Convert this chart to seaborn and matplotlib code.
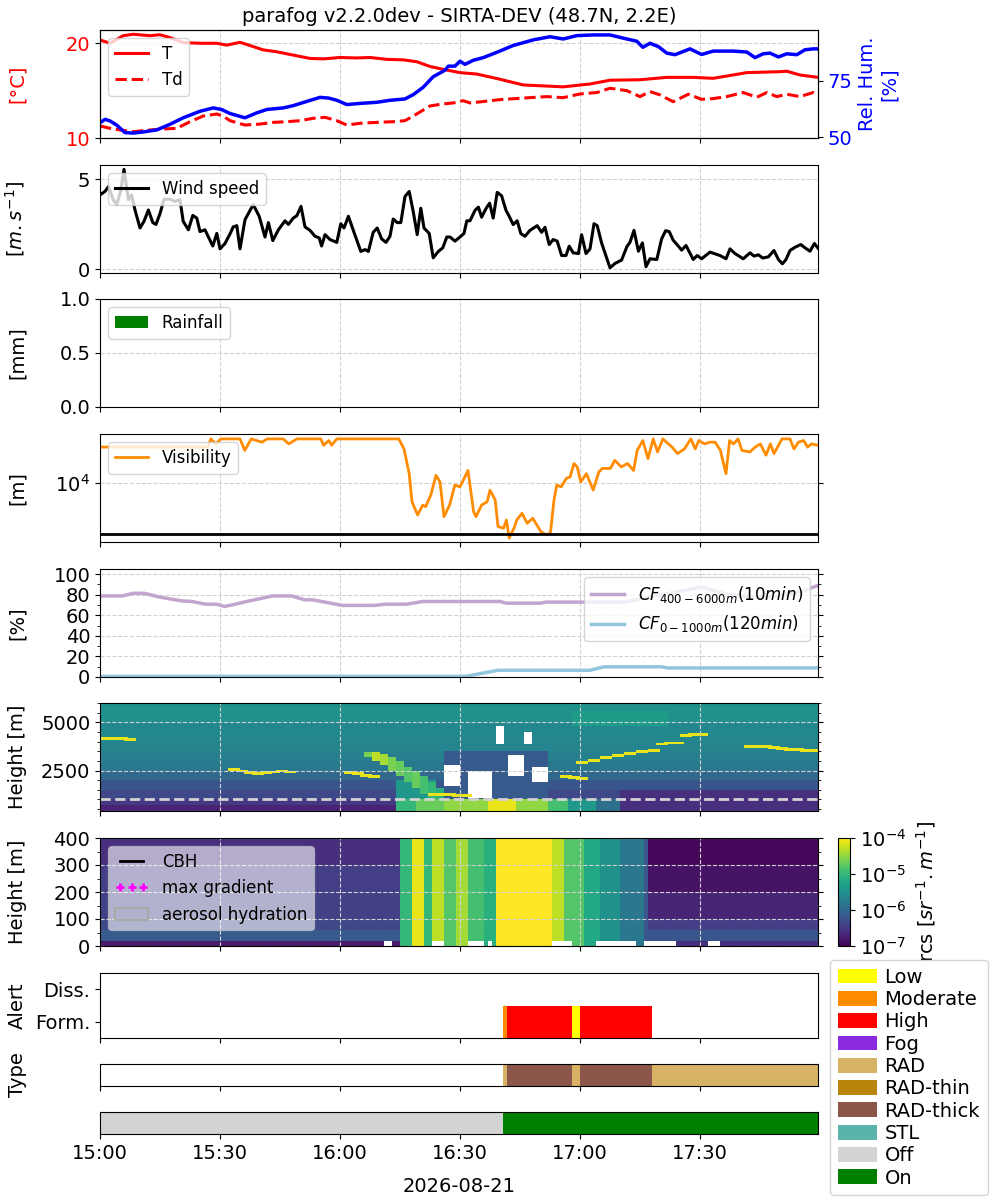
import numpy as np
import pandas as pd
import matplotlib
matplotlib.use('Agg')
import matplotlib.pyplot as plt
import matplotlib.dates as mdates
from matplotlib.colors import LogNorm
from matplotlib.patches import Patch
from matplotlib.ticker import MultipleLocator, NullLocator
import seaborn as sns

plt.rcParams['font.size'] = 14
plt.rcParams['font.family'] = ['DejaVu Sans']

# --- data (time in minutes after 15:00) ---
DAY = '2026-08-21'
TITLE = 'parafog v2.2.0dev - SIRTA-DEV (48.7N, 2.2E)'

T_TIME = [0, 2.5, 5.8, 8.3, 12.5, 15, 17.5, 20.8, 25, 29.2,
          31.7, 35, 38.3, 40.8, 44.2, 48.3, 52.5, 55.8, 60, 64.2,
          67.5, 71.7, 75.8, 79.2, 82.5, 85.8, 90, 94.2, 99.5, 105.8,
          115.8, 122.5, 127.5, 135, 141.7, 148.3, 153.3, 161.7, 170, 171.7,
          175, 179.5]
T_VAL = [20.35, 20.0, 20.8, 20.95, 20.8, 20.9, 20.6, 20.07, 20.0, 20.0,
         19.8, 20.1, 19.65, 19.3, 19.1, 18.75, 18.4, 18.35, 18.5, 18.45,
         18.5, 18.3, 18.25, 18.05, 17.55, 17.25, 16.9, 16.75, 16.25, 15.6,
         15.4, 15.7, 16.1, 16.15, 16.4, 16.4, 16.3, 16.9, 17.0, 17.05,
         16.65, 16.4]

TD_TIME = [0, 2.5, 5, 8.3, 12.5, 15.8, 19.2, 22.5, 25.8, 29.2,
           30.8, 32.5, 36.25, 40, 43.3, 46.7, 50, 53.3, 56.25, 59.2,
           61.7, 65, 69.2, 73.3, 76.25, 78.75, 82.5, 85.8, 88.3, 90.8,
           92.5, 95.8, 100, 107.5, 111.7, 115.8, 120, 124.2, 127.5, 131.7,
           135, 137.5, 140, 143.3, 147.1, 150.4, 153.3, 156.7, 160.8, 164.2,
           166.7, 169.2, 171.7, 175, 178.3, 179.5]
TD_VAL = [11.27, 11.02, 10.85, 10.67, 10.85, 10.95, 11.02, 11.72, 12.32, 12.53,
          12.3, 11.83, 11.37, 11.47, 11.65, 11.72, 11.83, 12.08, 12.18, 11.83,
          11.37, 11.55, 11.65, 11.72, 11.83, 12.43, 13.38, 13.6, 13.7, 13.94,
          13.7, 13.85, 14.05, 14.26, 14.37, 14.26, 14.65, 14.8, 15.25, 15.0,
          14.37, 14.9, 14.55, 13.83, 14.62, 14.08, 14.16, 14.37, 14.8, 14.3,
          14.8, 14.37, 14.62, 14.37, 14.8, 14.55]

RH_TIME = [0, 1.25, 2.5, 4.2, 6.25, 8.3, 10.8, 14.2, 17.5, 20.8,
           25, 28.3, 30.4, 32.5, 36.25, 39.2, 41.7, 45.8, 48.3, 51.7,
           55, 57.1, 59.2, 61.7, 65, 69.2, 72.5, 76.25, 78.3, 80.8,
           83.3, 86.25, 87.1, 88.75, 90, 91.25, 93.3, 95.8, 99.4, 103.3,
           108.3, 112.5, 115.8, 119.2, 123.3, 127.5, 131.7, 134.2, 135.7, 137.5,
           139.6, 141.7, 143.75, 147.5, 150.4, 153.3, 158.3, 161.7, 163.75, 165.8,
           167.5, 169.6, 171.7, 174.2, 176.25, 178.3, 179.5]
RH_VAL = [56.4, 57.9, 57.2, 55.3, 52.0, 51.8, 52.3, 53.2, 55.7, 58.6,
          61.5, 63.0, 62.3, 60.5, 58.6, 60.8, 62.3, 63.0, 64.0, 65.9,
          67.7, 67.4, 66.4, 64.5, 65.0, 65.5, 66.4, 67.0, 68.9, 72.2,
          76.9, 79.8, 81.6, 81.6, 83.8, 82.4, 84.2, 85.4, 87.9, 90.8,
          93.3, 94.7, 93.7, 95.2, 95.5, 95.5, 93.7, 92.7, 90.0, 91.8,
          90.3, 87.4, 86.7, 89.3, 86.8, 88.3, 88.3, 87.9, 85.4, 87.1,
          87.4, 85.7, 87.1, 86.7, 88.9, 89.3, 89.3]

WIND_TIME = [0, 1.25, 2.1, 3.3, 4.2, 5.2, 6, 7.1, 7.9, 8.75,
             10, 11, 12.1, 13.2, 14, 15, 16, 17.5, 18.75, 20,
             20.8, 22.1, 23.2, 24.2, 25, 26.25, 27.1, 28.2, 29.2, 30,
             31.25, 32.5, 33.3, 34.2, 35, 36.25, 38.3, 39.8, 41.25, 42.1,
             43.2, 44.6, 46.25, 47.1, 48.3, 49.2, 50.25, 51.25, 52.5, 53.75,
             54.8, 55.4, 56.25, 57.5, 59.2, 60.2, 61, 62.1, 63.5, 65.2,
             66.25, 67.1, 68.3, 69.3, 70.4, 71.5, 72.5, 73.3, 74.3, 75.2,
             76.25, 77.3, 78.3, 79.3, 80.2, 81, 82.3, 83.3, 84.6, 85.7,
             86.7, 87.5, 88.75, 90, 91, 91.7, 92.5, 93.75, 94.6, 95.4,
             96.5, 97.4, 98.3, 99.3, 100.4, 101.5, 102.3, 103.3, 104.3, 105.2,
             106.25, 107.5, 109.3, 110.4, 111.25, 112.3, 113.3, 114.3, 115.4, 116.5,
             117.3, 118.3, 119.6, 120.4, 121.5, 122.5, 123.5, 124.3, 125.4, 126.5,
             127.5, 128.75, 130.4, 131.7, 132.5, 133.5, 134.6, 135.6, 136.5, 137.5,
             139.2, 140.4, 141.4, 142.3, 143.3, 144.6, 145.4, 146.5, 148.3, 149.3,
             150.4, 152.5, 155, 156.5, 157.5, 158.75, 160.8, 162.5, 163.5, 164.6,
             165.7, 167.1, 168.5, 169.6, 170.6, 171.5, 172.5, 173.75, 175.2, 176.25,
             177.5, 178.6, 179.5]
WIND_VAL = [4.14, 4.33, 4.6, 3.87, 3.6, 4.4, 5.56, 3.87, 4.14, 3.3,
            2.3, 2.67, 3.3, 2.6, 2.5, 3.1, 3.9, 3.9, 3.78, 3.87,
            2.67, 2.2, 3.0, 2.85, 2.1, 2.2, 1.8, 1.3, 2.0, 1.14,
            1.44, 1.97, 2.36, 2.43, 1.14, 2.76, 3.6, 2.95, 1.8, 2.6,
            1.6, 2.2, 2.7, 2.5, 2.85, 2.98, 3.5, 2.36, 2.17, 1.84,
            1.75, 1.3, 1.93, 1.66, 1.5, 2.54, 2.3, 2.95, 2.06, 1.0,
            1.1, 1.0, 2.06, 2.3, 1.7, 1.5, 1.84, 2.8, 2.6, 2.6,
            4.05, 4.33, 3.22, 1.93, 3.4, 2.3, 2.0, 0.64, 1.0, 1.2,
            1.8, 1.8, 1.57, 1.8, 2.0, 2.7, 2.7, 3.28, 3.46, 2.9,
            3.38, 3.68, 2.85, 4.28, 4.09, 3.28, 2.95, 2.49, 2.7, 1.99,
            1.84, 2.17, 2.43, 2.06, 2.34, 1.38, 1.66, 1.57, 0.77, 0.77,
            1.29, 0.92, 0.88, 1.93, 0.88, 1.14, 2.54, 2.43, 1.47, 0.74,
            0.09, 0.33, 0.52, 1.25, 1.51, 2.17, 1.01, 1.47, 0.15, 0.59,
            0.55, 1.69, 2.15, 2.1, 1.62, 1.29, 1.07, 1.33, 0.55, 0.77,
            0.59, 0.96, 0.77, 0.59, 1.14, 0.88, 0.59, 0.92, 0.74, 0.81,
            0.63, 0.7, 1.05, 0.55, 0.31, 0.55, 1.05, 1.23, 1.38, 1.2,
            1.01, 1.44, 1.18]

RAIN_TIME = [0, 30, 60, 90, 120, 150]
RAIN_MM = [0.0, 0.0, 0.0, 0.0, 0.0, 0.0]

VIS_TIME = [0, 27, 27.7, 29, 30.2, 35, 36.2, 37.8, 40.5, 41.8,
            45.8, 47.2, 49.2, 55.2, 55.9, 57.2, 57.9, 59.2, 74.7, 76,
            77.3, 78, 79.4, 80.7, 81.4, 82.7, 84, 85, 86, 87.4,
            88.7, 90, 92, 93.4, 94, 95.4, 96.8, 97.5, 98.8, 99.5,
            100.9, 101.6, 102.3, 103.5, 104.2, 105.5, 106.8, 108.2, 110.2, 111.5,
            112.6, 113.5, 114.2, 115.3, 116.6, 117.5, 118.5, 119.3, 120.2, 121.6,
            123.3, 124.7, 125.6, 127.6, 128.7, 130.3, 131.9, 133.4, 134.3, 135.7,
            137, 138.3, 139.4, 140.7, 143, 144.4, 146.1, 147.7, 148.8, 149.7,
            151.1, 152.4, 153.8, 155.1, 156.5, 157.4, 158.4, 159.5, 160.5, 162.5,
            163.8, 165.1, 166.5, 167.6, 168.5, 170.5, 172.5, 173.5, 174.6, 175.9,
            176.9, 177.9, 179.5]
VIS_VAL = [17600, 17600, 20000, 18500, 20000, 20000, 16700, 20000, 19000, 20000,
           20000, 18500, 20000, 20000, 18100, 19500, 18100, 20000, 20000, 17100,
           11600, 7480, 6080, 7100, 6920, 8300, 11300, 10200, 5920, 7100,
           9700, 9440, 12200, 6400, 5920, 7100, 7480, 8970, 7680, 5070,
           4940, 5620, 4230, 4940, 5620, 6240, 5340, 5770, 4690, 4460,
           4570, 7680, 9700, 9440, 10800, 11000, 13600, 12900, 10200, 11600,
           8970, 11900, 12600, 12600, 14300, 12900, 13600, 12200, 16700, 19500,
           14700, 20000, 16300, 20000, 17600, 15900, 17100, 20000, 17100, 19500,
           18500, 19000, 19000, 16700, 11600, 19500, 18500, 20000, 16700, 16300,
           17600, 18500, 15500, 18500, 15900, 20000, 20000, 17100, 19000, 19500,
           17600, 18500, 18100]
VIS_THRESHOLD = 4500

CF_HIGH_TIME = [0, 5.6, 8.3, 11, 15, 20.4, 23, 26.4, 29.1, 31.1,
                33.8, 37.8, 43.2, 47.9, 51.2, 53.2, 60.6, 68.6, 71.3, 76.7,
                80.7, 100.1, 101.5, 110.2, 111.5, 131, 150.4, 156, 162, 168,
                172, 176, 179.5]
CF_HIGH_VAL = [78.8, 78.8, 81.4, 81.4, 77.6, 74.0, 73.4, 70.8, 70.8, 68.6,
               70.8, 74.4, 78.8, 78.8, 75.0, 75.0, 69.6, 69.6, 70.8, 70.8,
               73.4, 73.4, 71.8, 71.8, 72.8, 72.8, 87.5, 81, 78, 78,
               80, 84, 89]
CF_LOW_TIME = [0, 91.4, 99.5, 122.5, 126, 140.3, 142, 179.5]
CF_LOW_VAL = [0.6, 0.6, 6.5, 6.5, 9.9, 9.9, 8.8, 8.8]

# ceilometer 400-6000 m: background per height band, boxes, missing boxes, thin layers (log10 rcs)
HIGH_BAND_EDGES = [400, 700, 1000, 1500, 2000, 2500, 3000, 3500, 4000, 5000, 6000]
HIGH_BAND_LOG = [-6.7, -6.5, -6.35, -6.2, -6.0, -5.8, -5.7, -5.65, -5.6, -5.5]
HIGH_BOX_T0 = [74, 79, 86, 97, 104, 112, 117, 124, 130, 74,
               66, 68, 70, 72, 74, 76, 78, 80, 82, 84,
               86, 118]
HIGH_BOX_T1 = [79, 86, 97, 104, 112, 117, 124, 130, 180, 84,
               68, 70, 72, 74, 76, 78, 80, 82, 84, 86,
               112, 142]
HIGH_BOX_H0 = [400, 400, 400, 400, 400, 400, 400, 400, 400, 1000,
               3200, 3000, 2800, 2500, 2200, 1900, 1600, 1300, 1000, 1000,
               1000, 4800]
HIGH_BOX_H1 = [1000, 1000, 1000, 1000, 1000, 1000, 1000, 1000, 1500, 2000,
               3450, 3450, 3350, 3200, 3000, 2700, 2450, 2200, 1900, 1600,
               3500, 5600]
HIGH_BOX_LOG = [-5.0, -4.7, -4.5, -4.1, -4.5, -4.9, -5.4, -5.9, -6.6, -5.4,
                -4.6, -4.3, -4.4, -4.6, -4.7, -4.8, -4.7, -4.9, -5.0, -5.1,
                -6.15, -5.35]
NAN_T0 = [86.5, 92.5, 99.5, 102.5, 108, 106.5]
NAN_T1 = [90, 98.3, 101, 106, 112, 108.5]
NAN_H0 = [1700, 1100, 3900, 2200, 1900, 3900]
NAN_H1 = [2800, 2500, 4800, 3300, 2700, 4500]
LAYER_T = [0, 2, 4, 6, 32, 34, 36, 38, 40, 42, 44, 46, 61, 63, 65, 67,
           82, 84, 86, 88, 90, 115, 117, 119, 119, 122, 125, 128, 131, 134, 137,
           139, 141, 143, 145, 147, 149, 161, 163, 165, 167, 169, 171, 173, 175, 177, 179]
LAYER_H = [4200, 4200, 4200, 4150, 2600, 2500, 2400, 2350, 2400, 2450, 2500, 2450, 2400, 2350, 2250, 2200,
           1300, 1300, 1300, 1250, 1250, 2200, 2150, 2100, 2930, 3050, 3190, 3300, 3400, 3480, 3530,
           3900, 3950, 3950, 4350, 4400, 4400, 3750, 3750, 3750, 3700, 3650, 3600, 3600, 3550, 3550, 3550]
LAYER_LOG = -4.1

# ceilometer 0-400 m: clear-air profiles and fog columns
LOW_BAND_EDGES = [0, 20, 60, 100, 200, 300, 400]
LOW_CLEAR_BEFORE = [-6.8, -6.15, -6.35, -6.42, -6.45, -6.6]
LOW_CLEAR_AFTER = [-6.6, -6.2, -6.45, -6.7, -6.85, -6.95]
LOW_SEG_T0 = [75.5, 78, 81.5, 83.5, 86.5, 89, 92, 96, 99.5, 113, 116, 121, 125, 130, 136]
LOW_SEG_T1 = [78, 81.5, 83.5, 86.5, 89, 92, 96, 99.5, 113, 116, 121, 125, 130, 136, 137.5]
LOW_SEG_LOG = [-5.0, -4.1, -5.0, -4.3, -4.8, -4.4, -4.9, -5.1, -4.0, -4.3, -4.8, -5.2, -5.5, -5.8, -6.2]
LOW_GAP_T0 = [71.5, 83.5, 92.5, 97, 113.5, 124, 136, 152]
LOW_GAP_T1 = [73, 86.5, 96, 98.5, 118.5, 134.5, 144, 155]
CBH_TIME = []
CBH_H = []
GRAD_TIME = []
GRAD_H = []

ALERT_T0 = [100.7, 101.7, 118, 120]
ALERT_T1 = [101.7, 118, 120, 138]
ALERT_LEVEL = ['Moderate', 'High', 'Low', 'High']
TYPE_T0 = [100.7, 101.7, 118, 120, 138]
TYPE_T1 = [101.7, 118, 120, 138, 179.5]
TYPE_CLASS = ['RAD', 'RAD-thick', 'RAD', 'RAD-thick', 'RAD']
STATE_T0 = [0, 100.7]
STATE_T1 = [100.7, 179.5]
STATE = ['Off', 'On']

CAT_NAMES = ['Low', 'Moderate', 'High', 'Fog', 'RAD', 'RAD-thin', 'RAD-thick', 'STL', 'Off', 'On']
CAT_COLORS = ['#ffff00', '#ff8c00', '#ff0000', '#8a2be2', '#d8b365', '#b8860b', '#8c564b', '#5ab4ac', '#d3d3d3', '#008000']
COLOR_OF = dict(zip(CAT_NAMES, CAT_COLORS))

T0 = mdates.date2num(pd.Timestamp(DAY + ' 15:00'))


def tnum(minutes):
    return T0 + np.asarray(minutes, dtype=float) / 1440.0


fig = plt.figure(figsize=(10, 12), dpi=100)


def px_axes(top, bottom, left=100, right=818):
    return fig.add_axes([left / 1000, 1 - bottom / 1200, (right - left) / 1000, (bottom - top) / 1200])


def time_axis(ax, grid=True, labels=False):
    ax.set_xlim(tnum(0), tnum(179.5))
    ax.xaxis.set_major_locator(mdates.MinuteLocator(byminute=[0, 30]))
    ax.xaxis.set_major_formatter(mdates.DateFormatter('%H:%M'))
    if grid:
        ax.grid(True, which='major', linestyle='--', color='0.82', linewidth=0.8)
    ax.tick_params(axis='x', labelbottom=labels)
    ax.set_xlabel('')


def ylab(ax, text, **kw):
    ax.set_ylabel(text, **kw)
    ax.yaxis.set_label_coords(-0.102, 0.5)


tops = [30, 165, 299, 434, 569, 703, 838]
axes = [px_axes(t, t + 108) for t in tops]
ax_t, ax_w, ax_r, ax_v, ax_cf, ax_hi, ax_lo = axes

# 1. temperature / humidity
sns.lineplot(x=tnum(T_TIME), y=T_VAL, ax=ax_t, color='red', linewidth=2.2, label='T', estimator=None)
sns.lineplot(x=tnum(TD_TIME), y=TD_VAL, ax=ax_t, color='red', linewidth=2.2, linestyle='--', label='Td', estimator=None)
ax_rh = ax_t.twinx()
sns.lineplot(x=tnum(RH_TIME), y=RH_VAL, ax=ax_rh, color='blue', linewidth=2.5, estimator=None)
ax_t.set_ylim(10, 21.4)
ax_t.set_yticks([10, 20])
ax_rh.set_ylim(49.6, 97.7)
ax_rh.set_yticks([50, 75])
ax_t.tick_params(axis='y', labelcolor='red')
ax_rh.tick_params(axis='y', labelcolor='blue')
ax_rh.set_ylabel('Rel. Hum.\n[%]', color='blue')
ylab(ax_t, '[°C]', color='red')
ax_t.legend(loc='upper left', fontsize=12)
ax_t.set_title(TITLE, fontsize=14)
time_axis(ax_t)
ax_rh.set_xlim(tnum(0), tnum(179.5))

# 2. wind
sns.lineplot(x=tnum(WIND_TIME), y=WIND_VAL, ax=ax_w, color='black', linewidth=2.2, label='Wind speed', estimator=None)
ax_w.set_ylim(-0.2, 5.8)
ax_w.set_yticks([0, 5])
ax_w.legend(loc='upper left', fontsize=12)
ylab(ax_w, r'[$m.s^{-1}$]')
time_axis(ax_w)

# 3. rain
ax_r.bar(tnum(RAIN_TIME), RAIN_MM, width=1 / 1440, color='green', label='Rainfall')
ax_r.set_ylim(0, 1)
ax_r.set_yticks([0, 0.5, 1.0])
ax_r.legend(loc='upper left', fontsize=12)
ylab(ax_r, '[mm]')
time_axis(ax_r)

# 4. visibility
sns.lineplot(x=tnum(VIS_TIME), y=VIS_VAL, ax=ax_v, color='darkorange', linewidth=2, label='Visibility', estimator=None)
ax_v.axhline(VIS_THRESHOLD, color='black', linewidth=2)
ax_v.set_yscale('log')
ax_v.set_ylim(3980, 21600)
ax_v.set_yticks([1e4])
ax_v.yaxis.set_minor_locator(NullLocator())
ax_v.tick_params(axis='y', right=True)
ax_v.legend(loc='upper left', fontsize=12)
ylab(ax_v, '[m]')
time_axis(ax_v)

# 5. cloud fraction
sns.lineplot(x=tnum(CF_HIGH_TIME), y=CF_HIGH_VAL, ax=ax_cf, color='#c2a5cf', linewidth=2.5,
             label=r'$CF_{400-6000m}(10min)$', estimator=None)
sns.lineplot(x=tnum(CF_LOW_TIME), y=CF_LOW_VAL, ax=ax_cf, color='#92c5de', linewidth=2.5,
             label=r'$CF_{0-1000m}(120min)$', estimator=None)
ax_cf.set_ylim(0, 105)
ax_cf.set_yticks(range(0, 101, 20))
ax_cf.yaxis.set_minor_locator(MultipleLocator(10))
ax_cf.tick_params(axis='y', which='both', right=True)
ax_cf.legend(loc='upper right', fontsize=12)
ylab(ax_cf, '[%]')
time_axis(ax_cf)

# 6. ceilometer 400-6000 m
norm = LogNorm(1e-7, 1e-4)
t_edges = np.arange(0, 181, 1.0)
t_mid = t_edges[:-1] + 0.5
hi_edges = np.arange(400, 6001, 50.0)
hi_mid = hi_edges[:-1] + 25
band = np.searchsorted(HIGH_BAND_EDGES, hi_mid, side='right') - 1
hi = np.repeat(np.array(HIGH_BAND_LOG)[band][:, None], len(t_mid), axis=1)
for a, b, h0, h1, v in zip(HIGH_BOX_T0, HIGH_BOX_T1, HIGH_BOX_H0, HIGH_BOX_H1, HIGH_BOX_LOG):
    hi[np.ix_((hi_mid >= h0) & (hi_mid < h1), (t_mid >= a) & (t_mid < b))] = v
for a, b, h0, h1 in zip(NAN_T0, NAN_T1, NAN_H0, NAN_H1):
    hi[np.ix_((hi_mid >= h0) & (hi_mid < h1), (t_mid >= a) & (t_mid < b))] = np.nan
for a, h in zip(LAYER_T, LAYER_H):
    hi[np.ix_((hi_mid >= h - 75) & (hi_mid < h + 75), (t_mid >= a) & (t_mid < a + 3))] = LAYER_LOG
ax_hi.pcolormesh(tnum(t_edges), hi_edges, np.ma.masked_invalid(10.0 ** hi), cmap='viridis', norm=norm)
ax_hi.axhline(1000, color='lightgrey', linestyle='--', linewidth=2)
ax_hi.set_ylim(400, 6000)
ax_hi.set_yticks([2500, 5000])
ax_hi.yaxis.set_minor_locator(MultipleLocator(500))
ax_hi.tick_params(axis='y', which='both', right=True)
ylab(ax_hi, 'Height [m]')
time_axis(ax_hi)

# 7. ceilometer 0-400 m
lo_edges = np.arange(0, 401, 10.0)
lo_mid = lo_edges[:-1] + 5
lband = np.searchsorted(LOW_BAND_EDGES, lo_mid, side='right') - 1
before = np.array(LOW_CLEAR_BEFORE)[lband]
after = np.array(LOW_CLEAR_AFTER)[lband]
lo = np.empty((len(lo_mid), len(t_mid)))
for j, t in enumerate(t_mid):
    lo[:, j] = before if t < 100 else after
    for a, b, v in zip(LOW_SEG_T0, LOW_SEG_T1, LOW_SEG_LOG):
        if a <= t < b:
            lo[:, j] = v
for a, b in zip(LOW_GAP_T0, LOW_GAP_T1):
    lo[np.ix_(lo_mid < 20, (t_mid >= a) & (t_mid < b))] = np.nan
mesh = ax_lo.pcolormesh(tnum(t_edges), lo_edges, np.ma.masked_invalid(10.0 ** lo), cmap='viridis', norm=norm)
ax_lo.plot(tnum(CBH_TIME), CBH_H, color='black', linewidth=2, label='CBH')
ax_lo.plot(tnum(GRAD_TIME), GRAD_H, '+', color='magenta', markeredgewidth=2, label='max gradient')
hydr = Patch(facecolor='none', edgecolor='darkgrey', linewidth=1.5, label='aerosol hydration')
h_lo, l_lo = ax_lo.get_legend_handles_labels()
ax_lo.legend(handles=h_lo + [hydr], loc='upper left', fontsize=12, numpoints=3, framealpha=0.6)
ax_lo.set_ylim(0, 400)
ax_lo.set_yticks(range(0, 401, 100))
ax_lo.yaxis.set_minor_locator(MultipleLocator(50))
ax_lo.tick_params(axis='y', which='both', right=True)
ylab(ax_lo, 'Height [m]')
time_axis(ax_lo)

cax = fig.add_axes([0.838, 1 - 946 / 1200, 0.012, 108 / 1200])
cbar = fig.colorbar(mesh, cax=cax)
cbar.set_ticks([1e-7, 1e-6, 1e-5, 1e-4])
cbar.ax.minorticks_off()
cbar.set_label(r'rcs [$sr^{-1}.m^{-1}$]', labelpad=6)

# 8. alert / type / on-off
ax_a = px_axes(973, 1038)
for a, b, lvl in zip(ALERT_T0, ALERT_T1, ALERT_LEVEL):
    ax_a.barh(0, width=(b - a) / 1440, left=tnum(a), height=1.0, color=COLOR_OF[lvl])
ax_a.set_ylim(-0.5, 1.5)
ax_a.set_yticks([0, 1])
ax_a.set_yticklabels(['Form.', 'Diss.'])
ylab(ax_a, 'Alert')
time_axis(ax_a, grid=False)

ax_ty = px_axes(1064, 1086)
for a, b, c in zip(TYPE_T0, TYPE_T1, TYPE_CLASS):
    ax_ty.barh(0.5, width=(b - a) / 1440, left=tnum(a), height=1.0, color=COLOR_OF[c])
ax_ty.set_ylim(0, 1)
ax_ty.set_yticks([])
ylab(ax_ty, 'Type')
time_axis(ax_ty, grid=False)

ax_on = px_axes(1112, 1134)
for a, b, s in zip(STATE_T0, STATE_T1, STATE):
    ax_on.barh(0.5, width=(b - a) / 1440, left=tnum(a), height=1.0, color=COLOR_OF[s])
ax_on.set_ylim(0, 1)
ax_on.set_yticks([])
time_axis(ax_on, grid=False, labels=True)
ax_on.set_xlabel(DAY, labelpad=10)

cat_handles = [Patch(facecolor=c, label=n) for n, c in zip(CAT_NAMES, CAT_COLORS)]
fig.legend(handles=cat_handles, loc='upper left', bbox_to_anchor=(0.830, 1 - 960 / 1200),
           borderaxespad=0, fontsize=14, handleheight=0.8, handlelength=2.0,
           handletextpad=0.4, labelspacing=0.17, borderpad=0.4)

fig.savefig('out.png', dpi=100)
